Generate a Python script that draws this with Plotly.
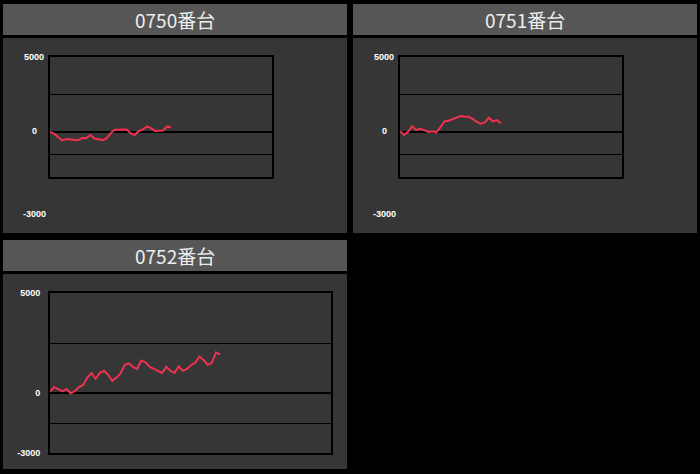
import plotly.graph_objects as go

# 収支データ (読み取り値)
titles = ["0750番台", "0751番台", "0752番台"]

v0750 = [0, -110, -330, -560, -470, -510, -560, -550, -400, -410, -200,
         -440, -490, -540, -430, -90, 150, 170, 200, 170, -90, -200, 70,
         170, 370, 260, 70, 100, 100, 370, 300]
v0751 = [50, -200, 10, 380, 135, 220, 120, 0, 50, -30, 310, 700, 750,
         860, 970, 1070, 1010, 1010, 870, 680, 560, 640, 950, 710, 800, 580]
v0752 = [65, 300, 190, 85, 190, -15, 100, 300, 400, 770, 1000, 710, 1010,
         1110, 910, 610, 770, 975, 1410, 1480, 1310, 1210, 1620, 1530, 1310,
         1210, 1110, 1000, 1310, 1110, 1000, 1330, 1110, 1200, 1400, 1515,
         1830, 1650, 1410, 1515, 2035, 1920]

grid_vals = [-3000, -1500, 0, 2500, 5000]
top_labels = ["5000", "0", "-3000"]
bottom_labels = ["-3000", "", "0", "", "5000"]

W, H = 700, 474
RED = "#f03250"
TICKFONT = dict(family="Liberation Sans Narrow, Liberation Sans", size=9,
                color="#ffffff", weight="bold")


def px(x):
    return x / W


def py(y):
    return 1 - y / H


fig = go.Figure()

# パネル (ヘッダー + 本体)
panels = [(3, 4, 347, 35, 38, 233), (353, 4, 697, 35, 38, 233),
          (3, 240, 347, 271, 274, 469)]
shapes = []
annotations = []
for (x0, y0, x1, yh, yb, y1), t in zip(panels, titles):
    shapes.append(dict(type="rect", xref="paper", yref="paper", layer="below",
                       x0=px(x0), x1=px(x1), y0=py(yh), y1=py(y0),
                       fillcolor="#565656", line_width=0))
    shapes.append(dict(type="rect", xref="paper", yref="paper", layer="below",
                       x0=px(x0), x1=px(x1), y0=py(y1), y1=py(yb),
                       fillcolor="#363636", line_width=0))
    annotations.append(dict(text=t, xref="paper", yref="paper",
                            x=px((x0 + x1) / 2), y=py((y0 + yh) / 2),
                            xanchor="center", yanchor="middle",
                            showarrow=False,
                            font=dict(family="Noto Sans CJK JP", size=19,
                                      color="#eeeeee")))

series = [v0750, v0751, v0752]
boxes = [(50, 57, 272, 177, 55), (400, 57, 622, 177, 55),
         (50, 293, 331, 453, 67.7)]

for i, (vals, (bx0, by0, bx1, by1, xr)) in enumerate(zip(series, boxes)):
    n = "" if i == 0 else str(i + 1)
    fig.add_trace(go.Scatter(x=list(range(len(vals))), y=vals, mode="lines",
                             line=dict(color=RED, width=2),
                             xaxis="x" + n, yaxis="y" + n,
                             hoverinfo="skip", showlegend=False))
    ax = dict(domain=[px(bx0), px(bx1)], range=[0, xr], showgrid=False,
              zeroline=False, showticklabels=False, showline=True,
              mirror=True, linecolor="#000000", linewidth=2, ticks="",
              automargin=False, anchor="y" + n)
    ay = dict(domain=[py(by1), py(by0)], range=[-3000, 5000],
              tickmode="array", tickvals=grid_vals,
              ticktext=bottom_labels if i == 2 else [""] * 5,
              showgrid=True, gridcolor="#000000", gridwidth=1,
              zeroline=True, zerolinecolor="#000000", zerolinewidth=2,
              showline=True, mirror=True, linecolor="#000000", linewidth=2,
              ticks="", ticklabelstandoff=6, tickfont=TICKFONT,
              automargin=False, anchor="x" + n)
    fig.update_layout({"xaxis" + n: ax, "yaxis" + n: ay})

    if i < 2:
        # 上段は -3000 のラベルが枠の外側に出ている
        for lab, yy in zip(top_labels, [57, 131, 214]):
            annotations.append(dict(text=lab, xref="paper", yref="paper",
                                    x=px(bx0 - 16), y=py(yy), showarrow=False,
                                    xanchor="center", yanchor="middle",
                                    font=TICKFONT))

fig.update_layout(width=W, height=H,
                  margin=dict(l=0, r=0, t=0, b=0, pad=0, autoexpand=False),
                  paper_bgcolor="#000000", plot_bgcolor="#343434",
                  shapes=shapes, annotations=annotations)

fig.write_html("out.html", config={"displayModeBar": False},
               post_script="document.body.style.margin='0';")
